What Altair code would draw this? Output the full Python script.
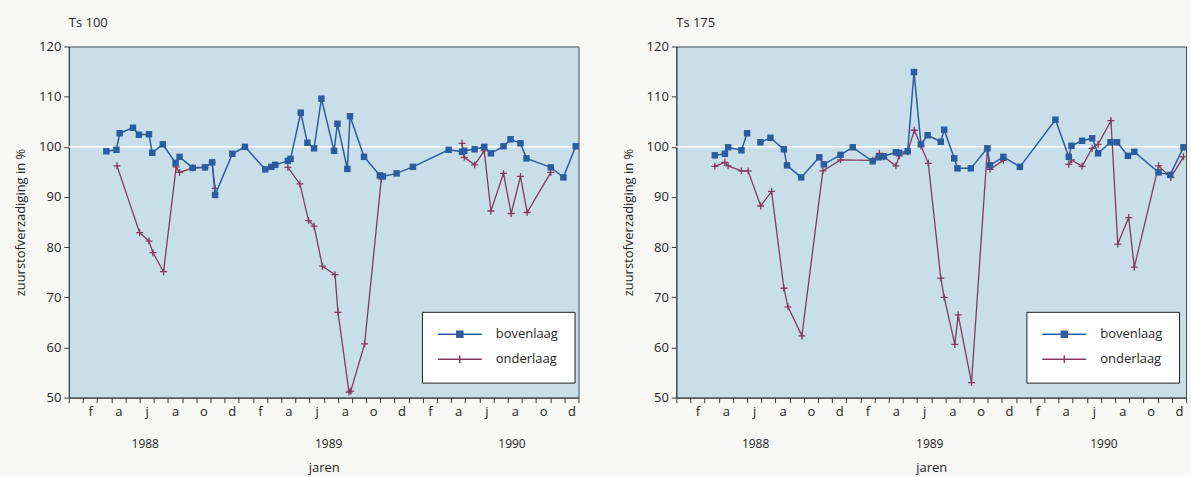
import json
import altair as alt
import pandas as pd

# ---------------- data ----------------
series_names = ["bovenlaag", "onderlaag"]
month_tick_labels = ["", "f", "", "a", "", "j", "", "a", "", "o", "", "d"]
years = [1988, 1989, 1990]
y_ticks = [50, 60, 70, 80, 90, 100, 110, 120]
reference_level = [100]

# Ts 100 -- months since 1 Jan 1988
ts100_boven_month = [2.65, 3.36, 3.59, 4.53, 4.95, 5.66, 5.89, 6.64, 7.54, 7.82,
                     8.75, 9.62, 10.12, 10.33, 11.55, 12.44, 13.87, 14.3, 14.58, 15.47,
                     15.66, 16.38, 16.85, 17.32, 17.84, 18.73, 18.97, 19.67, 19.86, 20.85,
                     21.97, 22.18, 23.15, 24.3, 26.83, 27.77, 27.93, 28.66, 29.34, 29.81,
                     30.7, 31.2, 31.9, 32.32, 34.04, 34.93, 35.8]
ts100_boven_value = [99.1, 99.4, 102.7, 103.8, 102.4, 102.5, 98.8, 100.5, 96.8, 98.0,
                     95.8, 95.9, 96.9, 90.4, 98.6, 100.0, 95.5, 96.0, 96.4, 97.2,
                     97.6, 106.8, 100.8, 99.7, 109.6, 99.2, 104.6, 95.6, 106.1, 98.0,
                     94.3, 94.1, 94.7, 96.0, 99.4, 99.0, 99.2, 99.5, 100.0, 98.7,
                     100.1, 101.5, 100.7, 97.7, 95.9, 93.9, 100.1]
ts100_boven_seg = [1] * 47

ts100_onder_month = [3.4, 5.0, 5.66, 5.94, 6.69, 7.58, 7.82, 8.75, 9.62, 10.12, 10.33,
                     15.47, 16.32, 16.93, 17.32, 17.91, 18.8, 19.01, 19.79, 19.91, 20.89, 22.07,
                     27.77, 27.93, 28.66, 29.34, 29.81, 30.7, 31.24, 31.9, 32.37, 34.04]
ts100_onder_value = [96.2, 82.9, 81.2, 78.9, 75.1, 96.0, 94.9, 95.8, 95.9, 96.9, 91.7,
                     95.9, 92.6, 85.3, 84.2, 76.2, 74.5, 67.0, 51.1, 51.3, 60.7, 93.6,
                     100.7, 97.9, 96.4, 99.2, 87.2, 94.7, 86.7, 94.1, 86.9, 94.9]
ts100_onder_seg = [1] * 11 + [2] * 11 + [3] * 10

# Ts 175
ts175_boven_month = [2.72, 3.43, 3.66, 4.6, 5.0,
                     5.94, 6.65, 7.6, 7.82, 8.82, 10.1, 10.42, 11.6, 12.46, 13.87,
                     14.3, 14.65, 15.51, 15.73, 16.34, 16.79, 17.28, 17.75, 18.68, 18.92,
                     19.63, 19.86, 20.8, 21.97, 22.16, 23.1, 24.27, 26.78, 27.72, 27.91,
                     28.66, 29.37, 29.79, 30.66, 31.13, 31.9, 32.35, 34.06, 34.88, 35.82]
ts175_boven_value = [98.3, 98.6, 99.9, 99.3, 102.7,
                     100.9, 101.8, 99.5, 96.3, 93.9, 97.9, 96.5, 98.4, 99.9, 97.1,
                     97.9, 98.1, 98.9, 98.8, 99.1, 114.9, 100.5, 102.3, 101.0, 103.4,
                     97.7, 95.7, 95.7, 99.7, 96.3, 98.0, 96.0, 105.4, 98.0, 100.2,
                     101.2, 101.7, 98.7, 100.9, 100.9, 98.2, 99.0, 94.9, 94.4, 99.9]
ts175_boven_seg = [1] * 5 + [2] * 40

ts175_onder_month = [2.72, 3.43, 3.66, 4.6, 5.07, 5.96, 6.73, 7.6, 7.89, 8.87,
                     10.35, 11.6, 13.87, 14.34, 14.65, 15.51, 15.75, 16.34, 16.81, 17.28,
                     17.8, 18.68, 18.92, 19.67, 19.91, 20.85, 21.97, 22.16, 23.1,
                     27.72, 27.91, 28.66, 29.37, 29.79, 30.7, 31.18, 31.95, 32.35, 34.06,
                     34.93, 35.82]
ts175_onder_value = [96.1, 96.9, 96.2, 95.2, 95.2, 88.2, 91.1, 71.8, 68.1, 62.3,
                     95.2, 97.4, 97.3, 98.7, 98.0, 96.2, 98.2, 99.0, 103.3, 100.2,
                     96.7, 73.8, 70.0, 60.6, 66.5, 53.0, 99.5, 95.5, 97.3,
                     96.5, 97.4, 96.1, 99.7, 100.5, 105.2, 80.6, 85.9, 76.0, 96.2,
                     93.9, 98.0]
ts175_onder_seg = [1] * 29 + [2] * 12

# ---------------- styling ----------------
BLUE = "#2c5c9e"
RED = "#853a5c"
PLOT_BG = "#c8dfe9"
PAGE_BG = "#f7f7f5"
TEXT = "#262626"
FONT = "Open Sans"
W, H = 511, 352

square_path = ("M-4.4,0H4.4M-0.6,-0.6H0.6V0.6H-0.6ZM-0.6,-0.3H0.6"
               "M-0.6,0.3H0.6M-0.3,-0.6V0.6M0.3,-0.6V0.6M0,-0.6V0.6")
plus_legend_path = "M-4.4,0H4.4M0,-0.75V0.75"
plus_path = "M-1,0H1M0,-1V1"

label_expr = ("datum.value % 2 == 1 && datum.value < 36 ? "
              + json.dumps(month_tick_labels).replace('"', "'") + "[datum.value % 12] : ''")


def xenc(field):
    return alt.X(
        f"{field}:Q",
        scale=alt.Scale(domain=[0, 36], nice=False, zero=False),
        axis=alt.Axis(values=list(range(37)), labelExpr=label_expr, labelOffset=W / 72,
                      title="jaren", titlePadding=43, tickSize=5, labelPadding=3,
                      grid=False, labelFlush=False),
    )


def yenc(field):
    return alt.Y(
        f"{field}:Q",
        scale=alt.Scale(domain=[50, 120], nice=False, zero=False),
        axis=alt.Axis(values=y_ticks, title="zuurstofverzadiging in %", tickSize=5,
                      labelPadding=3, titlePadding=11, grid=False),
    )


def frame(months, values, segs):
    return pd.DataFrame({"month": months, "value": values, "seg": segs})


def panel(title, boven, onder, year_scale, year_shift, legend_xy):
    bdf = frame(*boven)
    odf = frame(*onder)

    rule = alt.Chart(pd.DataFrame({"value": reference_level})).mark_rule(
        color="white", strokeWidth=1.5).encode(y=yenc("value"))

    red_line = alt.Chart(odf).mark_line(color=RED, strokeWidth=1.3).encode(
        x=xenc("month"), y=yenc("value"), detail="seg:N")
    red_pts = alt.Chart(odf).mark_point(shape=plus_path, filled=False, size=49,
                                        color=RED, strokeWidth=1.3, opacity=1).encode(
        x=xenc("month"), y=yenc("value"))
    blue_line = alt.Chart(bdf).mark_line(color=BLUE, strokeWidth=1.5).encode(
        x=xenc("month"), y=yenc("value"), detail="seg:N")
    blue_pts = alt.Chart(bdf).mark_square(size=42, color=BLUE, opacity=1).encode(
        x=xenc("month"), y=yenc("value"))

    leg = alt.Legend(title=None, orient="none", legendX=legend_xy[0], legendY=legend_xy[1],
                     fillColor="white", strokeColor="#222", padding=16,
                     symbolOffset=15.5, labelOffset=29.5, rowPadding=10,
                     labelFontSize=13, labelFont=FONT, labelColor=TEXT,
                     symbolSize=100, symbolStrokeWidth=1.5, labelLimit=200)
    # legend carrier: its own marks sit outside the clipped plot area
    legend_layer = alt.Chart(pd.DataFrame({"series": series_names})).mark_point(
        filled=False, size=100, strokeWidth=1.5, opacity=1, clip=True).encode(
        x=alt.value(-60), y=alt.value(-60),
        color=alt.Color("series:N", scale=alt.Scale(domain=series_names, range=[BLUE, RED]),
                        legend=leg),
        shape=alt.Shape("series:N",
                        scale=alt.Scale(domain=series_names,
                                        range=[square_path, plus_legend_path]),
                        legend=leg),
    )

    year_text = alt.Chart(pd.DataFrame({"year": years})).transform_calculate(
        ypos=f"(datum.year - 1988) * {year_scale} + {year_shift}"
    ).mark_text(fontSize=12, font=FONT, color=TEXT).encode(
        x=xenc("ypos"), y=alt.value(H + 47), text="year:N")

    return alt.layer(rule, red_line, red_pts, blue_line, blue_pts, year_text,
                     legend_layer).properties(
        width=W, height=H,
        title=alt.TitleParams(title, anchor="start", frame="group", fontSize=13,
                              font=FONT, fontWeight="normal", color=TEXT, offset=11),
    )


left = panel("Ts 100",
             (ts100_boven_month, ts100_boven_value, ts100_boven_seg),
             (ts100_onder_month, ts100_onder_value, ts100_onder_seg),
             12.95, 5.4, (354, 266))
right = panel("Ts 175",
              (ts175_boven_month, ts175_boven_value, ts175_boven_seg),
              (ts175_onder_month, ts175_onder_value, ts175_onder_seg),
              12.3, 5.6, (351, 266))

chart = alt.hconcat(left, right, spacing=41).resolve_scale(
    color="independent", shape="independent"
).properties(
    background=PAGE_BG,
    padding={"left": 14, "top": 15, "right": 0, "bottom": 0},
).configure_view(
    fill=PLOT_BG, stroke="#4a4a4a", strokeWidth=1
).configure_axis(
    domainColor="#3a3a3a", tickColor="#3a3a3a", labelColor=TEXT, titleColor=TEXT,
    labelFont=FONT, titleFont=FONT, labelFontSize=13, titleFontSize=13,
    titleFontWeight="normal", domainWidth=1
)

chart.save("out.html", embed_options={"renderer": "svg", "actions": False})
